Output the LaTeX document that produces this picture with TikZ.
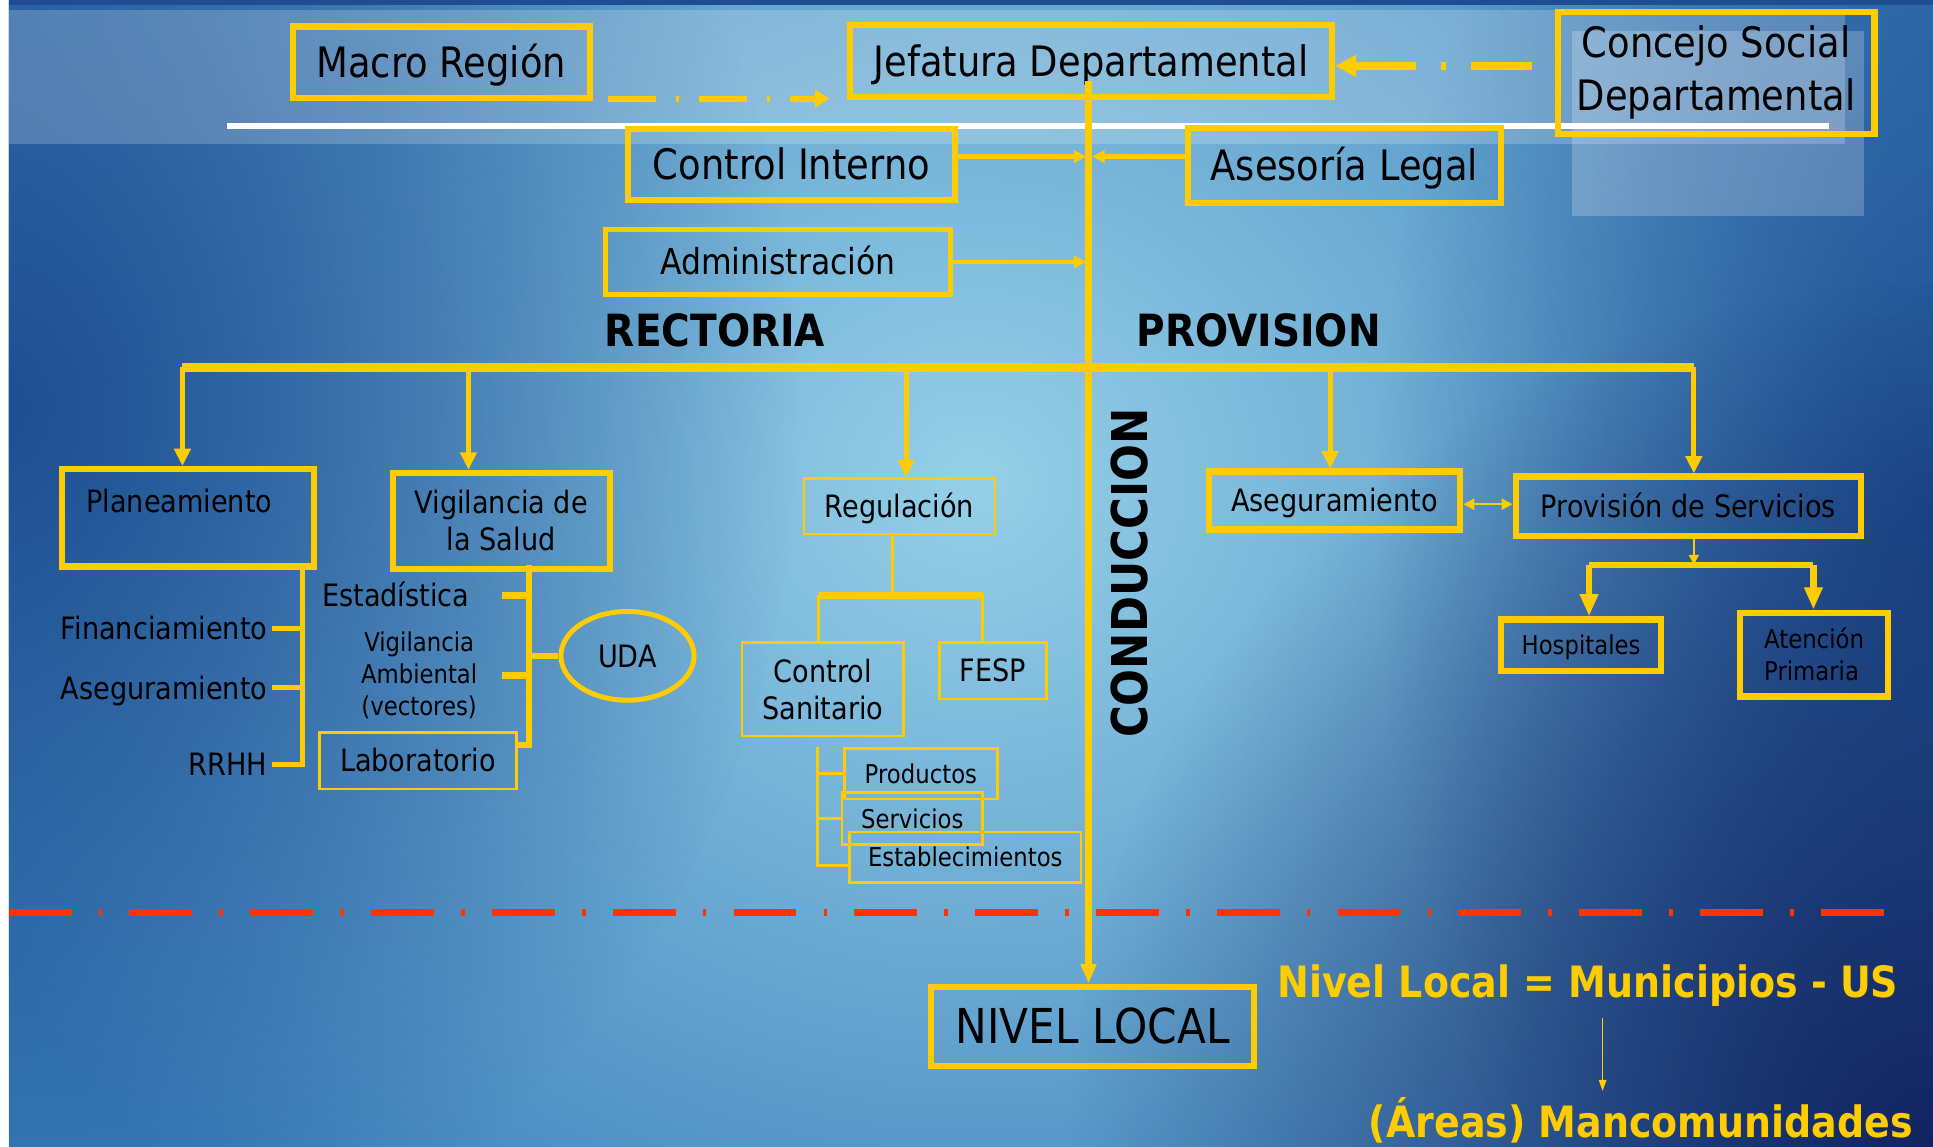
\documentclass[tikz,border=0pt]{standalone}
\usepackage{fontspec}
\setmainfont{DejaVu Sans}[FakeStretch=0.88]
\usetikzlibrary{arrows.meta,shapes.geometric,fadings}
\definecolor{oro}{RGB}{255,204,0}
\definecolor{rojo}{RGB}{255,51,0}
\definecolor{fondo}{RGB}{56,125,186}
\definecolor{claro}{RGB}{150,208,232}
\definecolor{oscuro}{RGB}{30,78,145}
\definecolor{marino}{RGB}{18,36,95}
\tikzfading[name=desvanece, inner color=transparent!0, outer color=transparent!100]

\begin{document}
\begin{tikzpicture}[x=1pt,y=1pt]
	\tikzstyle{every node}+=[inner sep=0pt]
	\tikzstyle{caja}=[draw=oro, line width=5pt, align=center]
	\tikzstyle{cajita}=[draw=oro, line width=2pt, align=center]
	\tikzstyle{grande}=[font=\fontsize{34}{43}\selectfont]
	\tikzstyle{media}=[font=\fontsize{25}{30}\selectfont]
	\tikzstyle{chica}=[font=\fontsize{21}{26}\selectfont]
	\tikzstyle{titulo}=[font=\fontsize{36}{40}\selectfont\bfseries, text height=26pt, text depth=0pt]
	\tikzstyle{grande1}=[grande, text height=24.8pt, text depth=0pt]
	\tikzstyle{media1}=[media, text height=18.2pt, text depth=0pt]
	\tikzstyle{chica1}=[chica, text height=15.3pt, text depth=0pt]
	\tikzstyle{barra}=[draw=oro, line width=4pt]
	\tikzstyle{hilo}=[draw=oro, line width=2pt]
	\tikzstyle{baja}=[draw=oro, line width=4pt, -{Triangle[length=14pt,width=13pt]}]
	\tikzstyle{lado}=[draw=oro, line width=4pt, -{Triangle[length=10pt,width=10pt]}]

	\useasboundingbox (0,0) rectangle (1568,-930);
	\fill[white] (0,0) rectangle (1568,-930);
	\begin{scope}
		\clip (7,0) rectangle (1568,-930);
		\fill[fondo] (7,0) rectangle (1568,-930);
		\fill[claro, path fading=desvanece] (790,-390) ellipse (900 and 820);
		\fill[oscuro, path fading=desvanece] (0,-330) ellipse (650 and 750);
		\fill[oscuro, path fading=desvanece] (1568,-420) ellipse (450 and 800);
		\fill[marino, path fading=desvanece] (1568,-930) circle (700);
		\fill[white, opacity=0.2] (7,-8) rectangle (1497,-117);
		\fill[white, opacity=0.22] (1275,-25) rectangle (1512,-175);
		\fill[oscuro] (7,0) rectangle (1568,-4);
	\end{scope}
	\draw[white, line width=5pt] (184,-102) -- (1484,-102);
	\draw[rojo, line width=6pt, dash pattern=on 51pt off 22pt on 3pt off 22pt] (7,-740) -- (1545,-740);

	\node[caja, grande1, minimum width=241pt, minimum height=58pt] (macro) at (358,-50.5) {Macro Región};
	\node[caja, grande1, minimum width=391pt, minimum height=58pt] (jefatura) at (885,-49.5) {Jefatura Departamental};
	\node[caja, grande, minimum width=257pt, minimum height=99pt] (concejo) at (1392,-59) {Concejo Social\\Departamental};
	\node[caja, grande1, minimum width=265pt, minimum height=58pt] (interno) at (642,-133.5) {Control Interno};
	\node[caja, grande1, minimum width=254pt, minimum height=61pt] (legal) at (1090.5,-134) {Asesoría Legal};
	\node[caja, line width=4pt, font=\fontsize{29}{34}\selectfont, text height=21pt, text depth=0pt, minimum width=280pt, minimum height=53pt] (admin) at (631,-212.5) {Administración};

	\node[titulo] (rectoria) at (580,-268) {RECTORIA};
	\node[titulo] (provision) at (1021,-268) {PROVISION};
	\node[titulo, font=\fontsize{40}{44}\selectfont\bfseries, text height=29pt, rotate=90] (conduccion) at (916,-465) {CONDUCCION};

	\node[caja, media, text height=18.2pt, text depth=26pt, minimum width=204pt, minimum height=79pt] (plan) at (152.5,-420) {Planeamiento\hspace*{14pt}};
	\node[media1, anchor=east] (fin) at (217,-510) {Financiamiento};
	\node[media1, anchor=east] (asegl) at (217,-558) {Aseguramiento};
	\node[media1, anchor=east] (rrhh) at (217,-620) {RRHH};

	\node[caja, media, minimum width=176pt, minimum height=78pt] (vigsal) at (406.5,-422.5) {Vigilancia de\\la Salud};
	\node[media1] (estad) at (321,-483) {Estadística};
	\node[chica, align=center] (vamb) at (340,-548) {Vigilancia\\Ambiental\\(vectores)};
	\node[cajita, media1, minimum width=160pt, minimum height=46pt] (lab) at (339,-617) {Laboratorio};
	\node[ellipse, draw=oro, line width=4pt, media1, minimum width=108pt, minimum height=72pt] (uda) at (509,-532) {UDA};

	\node[cajita, media1, minimum width=155pt, minimum height=45pt] (regul) at (729.5,-410.5) {Regulación};
	\node[cajita, media, minimum width=131pt, minimum height=76pt] (ctrlsan) at (667.5,-559) {Control\\Sanitario};
	\node[cajita, media1, minimum width=87pt, minimum height=46pt] (fesp) at (805.5,-544) {FESP};
	\node[cajita, chica1, minimum width=124pt, minimum height=41pt] (prod) at (747,-627.5) {Productos};
	\node[cajita, chica1, minimum width=114pt, minimum height=42pt] (serv) at (740,-664) {Servicios};
	\node[cajita, chica1, minimum width=188pt, minimum height=41pt] (estab) at (783,-695.5) {Establecimientos};

	\node[caja, media1, minimum width=204pt, minimum height=47pt] (asegr) at (1082.5,-406) {Aseguramiento};
	\node[caja, media1, minimum width=280pt, minimum height=48pt] (provs) at (1369.5,-410.5) {Provisión de Servicios};
	\node[caja, chica1, minimum width=130pt, minimum height=42pt] (hosp) at (1282.5,-523.5) {Hospitales};
	\node[caja, chica, align=left, minimum width=120pt, minimum height=68pt] (aten) at (1471.5,-531) {Atención\\Primaria};

	\node[caja, font=\fontsize{39}{44}\selectfont, text height=28.4pt, text depth=0pt, minimum width=262pt, minimum height=64pt] (nivel) at (886.5,-832.5) {NIVEL LOCAL};
	\node[font=\fontsize{35}{40}\selectfont\bfseries, text=oro, text height=25.5pt, text depth=0pt] (muni) at (1288,-796) {Nivel Local = Municipios - US};
	\node[font=\fontsize{35}{40}\selectfont\bfseries, text=oro, text height=25.5pt, text depth=0pt] (areas) at (1331,-910) {(Áreas) Mancomunidades};

	\coordinate (ttop) at (883,-66);
	\draw[oro, line width=5pt, -{Triangle[length=16pt,width=12pt]}] (ttop) -- (ttop |- nivel.north);

	\coordinate (mr1) at ([xshift=12pt,yshift=2pt]macro.south east);
	\coordinate (mr2) at (jefatura.west |- mr1);
	\draw[oro, line width=5pt, dash pattern=on 39pt off 16pt on 3pt off 16pt, -{Triangle[length=12pt,width=14pt]}] (mr1) -- ([xshift=-14pt]mr2);
	\coordinate (cs1) at ([xshift=-18pt,yshift=5.5pt]concejo.west);
	\draw[oro, line width=6pt, dash pattern=on 50pt off 20pt on 4pt off 20pt, -{Triangle[length=17pt,width=17pt]}] (cs1) -- (cs1 -| jefatura.east);

	\draw[lado, shorten >=2pt] ([yshift=6.5pt]interno.east) -- ([yshift=6.5pt]interno.east -| ttop);
	\draw[lado, shorten >=3pt] ([yshift=7pt]legal.west) -- ([yshift=7pt]legal.west -| ttop);
	\draw[lado, shorten >=2pt] (admin.east) -- (admin.east -| ttop);

	\coordinate (b1) at (148,-298);
	\coordinate (b2) at (380,-298);
	\coordinate (b3) at (735,-298);
	\coordinate (b4) at (1079,-298);
	\coordinate (b5) at (1374,-298);
	\draw[oro, line width=7pt] (b1) -- (b5);
	\draw[baja] (b1) -- (b1 |- plan.north);
	\draw[baja] (b2) -- (b2 |- vigsal.north);
	\draw[baja] (b3) -- (b3 |- regul.north);
	\draw[baja] (b4) -- (b4 |- asegr.north);
	\draw[baja] (b5) -- (b5 |- provs.north);

	\coordinate (pa) at (245,-460);
	\coordinate (pb) at (245,-620);
	\draw[barra] (pa) -- (pb) -- ([xshift=4pt]rrhh.east);
	\draw[barra] (fin.east -| pa) -- ([xshift=4pt]fin.east);
	\draw[barra] (asegl.east -| pa) -- ([xshift=4pt]asegl.east);

	\coordinate (va) at (429,-458);
	\coordinate (vb) at (429,-604);
	\draw[barra, line width=5pt] (va) -- (vb) -- (lab.east |- vb);
	\draw[barra, line width=5pt] (va |- estad) -- ++(-22,0);
	\draw[barra, line width=5pt] (va |- vamb) -- ++(-22,0);
	\draw[barra, line width=5pt] (uda.west) -- (uda.west -| va);

	\coordinate (ra) at (724,-483);
	\coordinate (rl) at (664,-483);
	\coordinate (rr) at (797,-483);
	\draw[hilo] (regul.south -| ra) -- (ra);
	\draw[oro, line width=5pt] (rl) -- (rr);
	\draw[hilo] (rl) -- (rl |- ctrlsan.north);
	\draw[hilo] (rr) -- (rr |- fesp.north);

	\coordinate (sa) at (663,-606);
	\coordinate (sb) at (663,-702);
	\draw[hilo] (sa) -- (sb) -- (sb -| estab.west);
	\draw[hilo] (sa |- prod) -- (prod.west);
	\draw[hilo] (sa |- serv) -- (serv.west);

	\draw[hilo, {Triangle[length=9pt,width=9pt]}-{Triangle[length=9pt,width=9pt]}] ([yshift=-3pt]asegr.east) -- ([yshift=-3pt]asegr.east -| provs.west);

	\coordinate (pj) at (1374,-458);
	\coordinate (hj) at (1289,-458);
	\coordinate (aj) at (1471,-458);
	\draw[hilo, -{Triangle[length=8pt,width=8pt]}] (provs.south -| pj) -- (pj);
	\draw[oro, line width=5pt] (hj) -- (aj);
	\draw[oro, line width=5pt, -{Triangle[length=18pt,width=14pt]}] (hj) -- (hj |- hosp.north);
	\draw[oro, line width=5pt, -{Triangle[length=18pt,width=14pt]}] (aj) -- (aj |- aten.north);

	\coordinate (ma) at (1300,-826);
	\coordinate (mb) at (ma |- areas.north);
	\draw[oro, line width=1.2pt, -{Triangle[length=9pt,width=6pt]}] (ma) -- ([yshift=12pt]mb);
\end{tikzpicture}
\end{document}
